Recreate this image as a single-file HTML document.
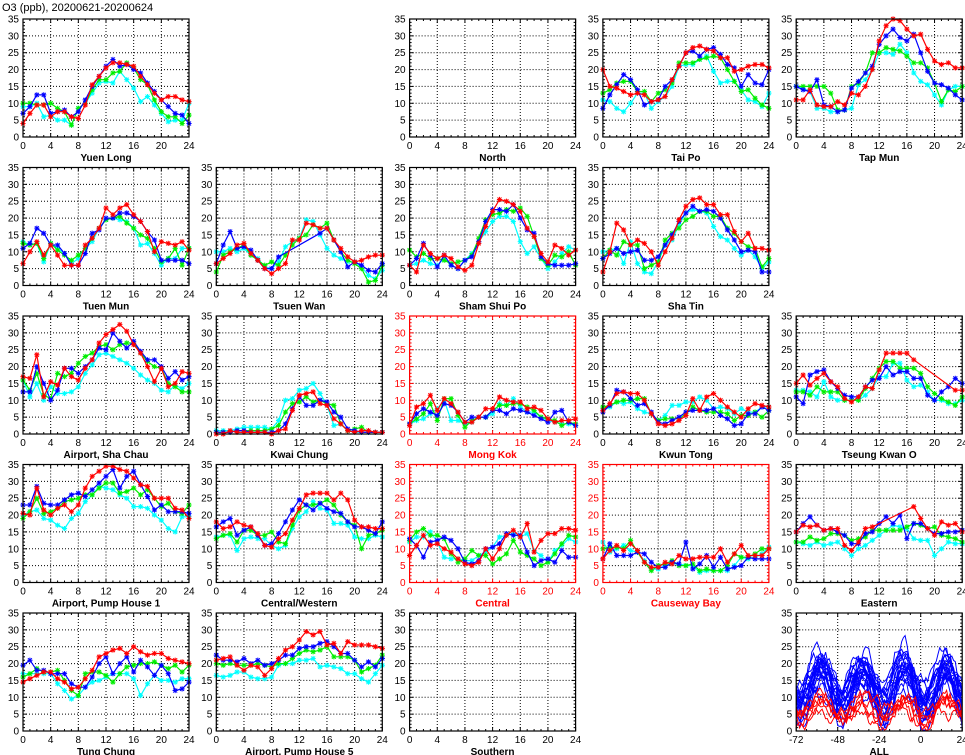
<!DOCTYPE html>
<html><head><meta charset="utf-8"><style>
html,body{margin:0;padding:0;background:#fff;width:965px;height:755px;overflow:hidden}
svg text{font-family:"Liberation Sans",sans-serif}
</style></head><body>
<svg id="s" width="965" height="755" xmlns="http://www.w3.org/2000/svg"></svg>
<script>
const S=document.getElementById('s');let out='';
out+='<text x="2" y="11" font-size="11" fill="#000">O3 (ppb), 20200621-20200624</text>';
const P=[
[0,0,"Yuen Long",0,{
b:[7,9,12.5,12.5,7,7.5,8,6,7.5,11,15,18,21,23,21,21.5,20,19,16,13.5,11,9,7,6.5,4],
r:[4,7,9.5,9.5,6,7.5,7.5,6,5.5,9.5,15.5,18,20.5,22,22,21.5,21,18,15.5,13,11,12,12,11,10.5],
g:[10,10,9.5,9.5,10,8.5,7.5,3.5,8.5,10,14,17,17,19,19.5,22,20.5,17,15.5,11,7.5,6,6,4,6.5],
c:[9,9,10,6,6.5,5,5,3.5,8.5,10,13,16,16.5,16,19.5,17,14.5,10.5,12,9.5,7,4.5,5,5,10]}],
[0,2,"North",0,null],
[0,3,"Tai Po",0,{
b:[8.5,12.5,15.5,18.5,17,14,9.5,10.5,11,15,17,21,25,25.5,24,26,26.5,24.5,21.5,20.5,15,18.5,16,15.5,20],
r:[20,15,14.5,13.5,12.5,13,12.5,10.5,11,12,17,21,25,26.5,27,26,25.5,23.5,23.5,19.5,20,21,21.5,21.5,20.5],
g:[13,14,16,16.5,16.5,13.5,13.5,10.5,13,14,16,22,22,22,23,23.5,24,23.5,20,16.5,13.5,14,11.5,9.5,8.5],
c:[11,10.5,8.5,7.5,10,13,13,8.5,10.5,12,15,21,21.5,21.5,23,24,19.5,16,16.5,16.5,14,11,10.5,9,13]}],
[0,4,"Tap Mun",0,{
b:[15,14,13.5,17,9.5,9,7.5,8,14.5,16.5,19,21,27.5,30,32,29.5,28.5,30.5,25,19.5,16,15.5,14.5,12.5,11],
r:[11,11,14,9.5,9,9,10.5,9.5,13,12.5,15,20,28.5,33,35,34.5,32,30,30.5,26,22.5,21.5,22,20.5,20.5],
g:[15,15,15,15,15,13,8,8,15,16,19,25,25,26.5,26,25.5,24,22,22,20.5,16,10.5,14,13.5,15],
c:[15,14.5,13.5,8.5,8.5,7.5,7.5,8,8.5,15.5,17,20,25,25,24.5,27.5,25,19,16.5,15.5,12.5,9.5,14,15,15]}],
[1,0,"Tuen Mun",0,{
b:[11,12.5,17,15.5,12,12,9.5,6,6,9.5,15.5,16.5,20,20,21.5,21.5,20.5,19,16,13.5,7.5,7.5,7.5,7.5,6.5],
r:[6.5,10,13,9,12,9,6,6,6,12,14,17,23,21,23,24,21,19,16,10,13,12.5,12,13,10.5],
g:[12.5,12,12.5,8,12.5,10.5,9,7.5,9,11,14,17,19.5,20,20.5,18.5,17,15,14,11,7,8,11,6,11],
c:[13,12,12.5,7,12.5,11,9.5,6.5,8,11,13,17,19.5,20,19.5,19,17,12,12.5,9.5,6,8,8,11,11]}],
[1,1,"Tsuen Wan",0,{
b:[6.5,12,16,11,11.5,10.5,7.5,5,5,8.5,null,null,null,null,null,15.5,17,13.5,10,5.5,7,6,4.5,4,6.5],
r:[6.5,8,9.5,12,12.5,9.5,7.5,5,3.5,5,6.5,13.5,13.5,18.5,18,17,17,13.5,11,8.5,7,7.5,8.5,9,9],
g:[4,9,10,11,12,9,7.5,6,7,6,9,12,14,15,18,17,18.5,13.5,10,7.5,6.5,5,1,1.5,6],
c:[10,10,11,10,11,9,8,5.5,5,7,11.5,13,14,19.5,19,15,11,9,8,7,7,5.5,3,2,4.5]}],
[1,2,"Sham Shui Po",0,{
b:[6,8,12.5,9,5.5,9,6,5,7.5,8.5,13,19,22.5,22.5,22,24,20,16.5,15.5,8.5,6.5,6,6,6,6.5],
r:[6,4,12,9.5,8,9,8,5.5,4.5,6,12.5,17.5,22,25.5,25,24,22,17,14.5,9.5,7,12,11,9,10.5],
g:[10.5,8.5,9.5,8,8,7.5,6.5,7,7.5,9,14,19.5,21,21.5,22.5,22,23,20.5,14.5,8,6,9,8.5,10,6],
c:[6,6.5,7.5,6.5,6,8,6,5,7.5,9.5,13,16,19,20.5,20.5,19,13,9.5,11.5,8,5,7,9.5,11.5,10.5]}],
[1,3,"Sha Tin",0,{
b:[8,9.5,11,9.5,10,10.5,7.5,7.5,8.5,12,15,19,21.5,23.5,22,22.5,22,20,16.5,13.5,10,10.5,10,4,4],
r:[4,10,18.5,16.5,12,13.5,12.5,10,6,10,14,19.5,23.5,25.5,26,24,24,21,21,16,13,15.5,11,11,10.5],
g:[8,10.5,9,13,12,12,5,6,7,13.5,15.5,17,19.5,20.5,22,22,20.5,20.5,17,15.5,13,11.5,11,5.5,8],
c:[10,10.5,11,6.5,13,6.5,4,3.5,7,12,13.5,18,21.5,22.5,22,21.5,17.5,14.5,13.5,11,9,10.5,8.5,5,7]}],
[2,0,"Airport, Sha Chau",0,{
b:[12.5,12.5,20,15,10,13,19.5,19.5,18,20,22,25.5,25,30,27.5,25.5,27.5,24.5,22,22,20,16.5,18.5,16,17],
r:[17,16.5,23.5,11,15.5,14.5,19.5,17,16,19.5,22,27,29.5,31,32.5,30.5,26.5,24,20,15.5,19.5,14,15,18.5,18],
g:[16,13,18,11.5,10.5,18,17,18,21,23,24,26,26.5,25,26.5,27,27,24,21.5,20,19.5,15,14,12.5,12.5],
c:[16,11,15,10,14,12,12,12.5,14,18,20.5,23.5,24,23,22,21,19.5,17.5,16,15,13,12.5,14.5,13.5,15]}],
[2,1,"Kwai Chung",0,{
b:[0.5,0.5,0.5,1,1,0.5,0.5,0.5,0.5,1,3,7.5,11,8.5,8.5,10,9.5,6.5,5,1.5,1,0.5,0.5,0.5,0.5],
r:[0,0,1,0.5,0.5,0.5,0.5,0.5,0,1,1.5,7,11.5,12,12.5,9,8.5,4.5,3,1,0.5,1,1,0.5,0.5],
g:[0.5,0.5,0.5,1,1,1,1,1,1.5,2.5,6.5,9,9.5,11,9.5,10,9,8.5,3,1,1.5,2,0.5,0.5,0.5],
c:[1,1,1,1.5,2,2,2,2,1.5,4,10,10.5,13,13.5,15,12,8.5,2.5,3,1,0.5,0.5,0.5,0.5,0.5]}],
[2,2,"Mong Kok",1,{
b:[3,6,7.5,6.5,5.5,9,8.5,6.5,3.5,5,5,5,7,7,6,7.5,7,6.5,5.5,4.5,3.5,6.5,7,3.5,2.5],
r:[2.5,8,9,11.5,7,10.5,9,6.5,3.5,3.5,5,7.5,7.5,11,10,9.5,9.5,7.5,8,7,4.5,3.5,4,4,4.5],
g:[3,4.5,6,9,4,10.5,10.5,5.5,2,4,5,5,7,8.5,8.5,9,9,8,7,5,4.5,4,2.5,3.5,3],
c:[3,4,4.5,6,7.5,10,4,4,3,3.5,5,5,6,9,8.5,10.5,8,6.5,6.5,5,4,3.5,3,3,2.5]}],
[2,3,"Kwun Tong",0,{
b:[6.5,8.5,13,12.5,10.5,8.5,9,6.5,3.5,3,4,5,6.5,7,7,7,7.5,5.5,4.5,2.5,3,6,6,8,7],
r:[7,9,12,12.5,12,12,10,6,3,2.5,3,4,5.5,10.5,7,11,12,10,8,6.5,5,7.5,9,8.5,8],
g:[8,8.5,9.5,10,10,10.5,10.5,6,4,4.5,4.5,4.5,6,8,7,6.5,6.5,6.5,6,4,5.5,5.5,6.5,5,7],
c:[7.5,8,9.5,9,9.5,7.5,6.5,6,4,5.5,8.5,8.5,9.5,9.5,11,10,7.5,8,7.5,6,7.5,6.5,6.5,8,8]}],
[2,4,"Tseung Kwan O",0,{
b:[11,9,17.5,18.5,19,15.5,13.5,11.5,11,11,14,16,16.5,20,17.5,18.5,18.5,16.5,16.5,11.5,10,12.5,14,16.5,15],
r:[15,17.5,14.5,16.5,18,15.5,14,10.5,9.5,11,14,13.5,19,24,24,24,24,22,null,null,null,null,null,13,13],
g:[12.5,12.5,11.5,14,12.5,12.5,12.5,10,10,10,13.5,16.5,19.5,21.5,21.5,19.5,19.5,19.5,18,14,12,10.5,9.5,8.5,11],
c:[13,13,12.5,11,15.5,11,10,10,10,10,11.5,13.5,17,17,21,21,16,14,14.5,12.5,10,10,9,9,10]}],
[3,0,"Airport, Pump House 1",0,{
b:[23,23,28.5,23.5,23,23,24.5,26,26.5,25.5,27.5,29.5,31.5,33.5,28,31.5,33,29,25.5,21.5,23,21,21,21,20.5],
r:[20.5,20,28,21.5,20,22,23,21,23,28,31.5,33,34.5,34.5,33.5,33,31,29,28.5,25,25,25,22,21.5,19],
g:[19,21,25,20.5,21,22,24,24.5,25,26,26,28,29.5,29.5,26.5,27,28,26,27.5,25,22.5,23.5,21,20.5,23],
c:[20,21,21.5,19,18.5,17,16,19,20.5,24,26,28.5,28,27.5,26,25,22.5,22.5,22,20,18.5,16,15,19.5,19.5]}],
[3,1,"Central/Western",0,{
b:[16.5,18,19,14,15.5,16.5,14,11,11.5,14.5,18,21.5,24.5,23,21.5,23.5,22,21,20.5,18,16.5,16.5,15.5,14.5,18],
r:[18,16,16.5,18,17,16.5,14.5,11,10.5,13,14.5,18.5,22,26,26.5,26.5,26.5,24.5,26.5,24.5,18.5,16.5,16.5,16,16],
g:[13,14,14.5,12,15.5,15.5,14,14,15,12,11.5,17,21.5,23,23,23.5,24.5,23,20,18,17,10,14,14.5,15.5],
c:[13.5,14,14,9.5,13,13.5,13,13,11,10,11,16,19.5,21,24,22,21.5,17.5,17.5,17,13.5,13,13,14,13.5]}],
[3,2,"Central",1,{
b:[13,11,7.5,12,12.5,13.5,12.5,10,6,5.5,6.5,10,10.5,11.5,14.5,14,14,9,5,6.5,7,6,9.5,7.5,7.5],
r:[8,11,14,11,11.5,10,9,7,5.5,5,6,10,7,10,14,15.5,13.5,17.5,9,12.5,14.5,14.5,16,16,15.5],
g:[12.5,15,16,14,14,13,8.5,6,7,9.5,8,8,5.5,7,8.5,12.5,9,8,7,5,6,8.5,11.5,14,13.5],
c:[12,13.5,13.5,15,12,7.5,7,7,6.5,6.5,8,9,10.5,13.5,14,14.5,13.5,14.5,9.5,8,6,9.5,11,13,12]}],
[3,3,"Causeway Bay",1,{
b:[7,11.5,8,8,8,9,8.5,6,4.5,4.5,6,5.5,12,4,5.5,8,4.5,7.5,4,4.5,5,7.5,7,7,7],
r:[7,9.5,11,9.5,11.5,9.5,6,4.5,4.5,6,5.5,8,7,7,7.5,7.5,7.5,10,6,8.5,11,8,8,8,10],
g:[10,10.5,10.5,10,12.5,9,6,3.5,5,5.5,6.5,5,5,5.5,3.5,4,3.5,3.5,5,8.5,7.5,7.5,8.5,10,10],
c:[12,9,10,11,9.5,9,6.5,4,4,5,5.5,5.5,5,5,3,3.5,3.5,3.5,3.5,5,7.5,7,7.5,8.5,10.5]}],
[3,4,"Eastern",0,{
b:[15,17.5,19.5,17,15.5,16,15,14,11.5,11.5,14.5,15,17.5,19.5,17.5,20,13,17.5,17.5,16,14.5,14.5,15,15,15.5],
r:[15,17,16.5,17,15.5,16,16,11,9.5,12,16,16.5,null,null,null,null,null,22.5,19,16,14,18,17,17.5,15],
g:[12,12,13.5,12.5,13,14.5,14.5,14,12.5,13,13.5,15.5,15.5,15.5,15.5,15.5,16.5,17.5,17,16,16.5,14,13.5,13,12],
c:[12,11.5,11,12,11,11.5,12,10,8,10,11,12.5,14,15.5,17,16.5,16,13,12.5,12.5,8,10,12,11.5,11.5]}],
[4,0,"Tung Chung",0,{
b:[19.5,21,18,18,17,17,17,14,13,13,16,20,22,17,20,22,17.5,21,19,16.5,19.5,17,12,12.5,14.5],
r:[14.5,15.5,16.5,17.5,17.5,15.5,14.5,12.5,13,15.5,18,22,23,24,24.5,23,25,23.5,22.5,23,23,21.5,21,20.5,20],
g:[16,17,18.5,17.5,17.5,18,15,12,10.5,17,17.5,17.5,16.5,14.5,17,19,19.5,20,20,20.5,19.5,18.5,19.5,17.5,19.5],
c:[17,17,17,17,17,14,12,9.5,10.5,13,14.5,15,16,17,17,17,15.5,10.5,14,16.5,15,15,14.5,15.5,15.5]}],
[4,1,"Airport, Pump House 5",0,{
b:[22.5,21,21,20.5,21.5,20,21,19.5,20,21,22.5,22.5,24.5,25,25,26,26.5,25,23,23,21,19,20.5,19,21.5],
r:[21,21.5,22,19.5,18,19.5,19,16.5,18.5,21.5,24,25,27,29.5,28.5,29.5,25.5,26,23,26.5,25.5,25.5,25.5,25,24.5],
g:[20,19.5,20,19.5,19.5,19.5,20,19.5,19,20,20,21.5,23,24,23.5,24,25,22,22,22,21,17.5,18.5,19.5,22.5],
c:[16.5,16,16.5,17.5,17.5,16,15.5,15.5,16,19.5,20,20,21,21,21.5,19,19.5,19,18.5,17,17,15.5,14.5,17,19.5]}],
[4,2,"Southern",0,null],
[4,4,"ALL",0,"all"]
];
const COL={c:"#00ffff",g:"#00ee00",b:"#0000ff",r:"#ff0000"};
function star(x,y,col){const a=2.6;return `<path d="M${x-a} ${y}H${x+a}M${x} ${y-a}V${y+a}M${x-2} ${y-2}L${x+2} ${y+2}M${x-2} ${y+2}L${x+2} ${y-2}" stroke="${col}" stroke-width="1"/>`;}
let seed=7;function rnd(){seed=(seed*16807)%2147483647;return seed/2147483647;}
P.forEach(([r,c,name,red,data])=>{
 const L=23+193.3*c, T=19+148.5*r, W=166, H=118;
 const fg=red?"#ff0000":"#000";
 const isAll=data==="all";
 const x0=isAll?-72:0,x1=24;
 const X=v=>L+(v-x0)/(x1-x0)*W, Y=v=>T+H-v/35*H;
 let s='';
 const xt=isAll?[-72,-48,-24,0,24]:[0,4,8,12,16,20,24];
 xt.slice(1,-1).forEach(v=>{s+=`<line x1="${X(v)}" y1="${T}" x2="${X(v)}" y2="${T+H}" stroke="#000" stroke-width="1" stroke-dasharray="1,2"/>`});
 for(let v=5;v<35;v+=5)s+=`<line x1="${L}" y1="${Y(v)}" x2="${L+W}" y2="${Y(v)}" stroke="#000" stroke-width="1" stroke-dasharray="1,2"/>`;
 const mstep=isAll?6:1;
 for(let v=x0;v<=x1;v+=mstep){const big=xt.includes(v);const l=big?4:2;s+=`<line x1="${X(v)}" y1="${T+H}" x2="${X(v)}" y2="${T+H-l}" stroke="${fg}"/><line x1="${X(v)}" y1="${T}" x2="${X(v)}" y2="${T+l}" stroke="${fg}"/>`;}
 for(let v=0;v<=35;v+=1){const big=v%5==0;const l=big?4:2;s+=`<line x1="${L}" y1="${Y(v)}" x2="${L+l}" y2="${Y(v)}" stroke="${fg}"/><line x1="${L+W}" y1="${Y(v)}" x2="${L+W-l}" y2="${Y(v)}" stroke="${fg}"/>`;}
 if(data&&!isAll){["c","g","b","r"].forEach(k=>{const a=data[k];let pts=[];a.forEach((v,i)=>{if(v!==null)pts.push([X(i),Y(v)])});
  s+=`<polyline points="${pts.map(p=>p[0].toFixed(1)+','+p[1].toFixed(1)).join(' ')}" fill="none" stroke="${COL[k]}" stroke-width="1.2"/>`;
  pts.forEach(p=>s+=star(p[0],p[1],COL[k]));});}
 if(isAll){
  s+=`<clipPath id="cp"><rect x="${L}" y="${T}" width="${W}" height="${H}"/></clipPath><g clip-path="url(#cp)">`;
  for(let n=0;n<28;n++){const red=n>=22;const base=red?5+rnd()*3:10+rnd()*8;const amps=[0,1,2,3,4].map(()=>red?1+rnd()*3:2+rnd()*8);const ph=(rnd()-0.5)*6;let pts=[];let nz=0;
   for(let h=-72;h<=24;h++){nz=nz*0.8+(rnd()-0.5)*3.5;const day=Math.floor((h+72)/24);const d=Math.cos((h-14-ph)/24*2*Math.PI);let v=base+amps[day]*d+nz;v=Math.max(0.3,Math.min(35,v));pts.push(X(h).toFixed(1)+','+Y(v).toFixed(1));}
   s+=`<polyline points="${pts.join(' ')}" fill="none" stroke="${red?'#ff0000':'#0000ff'}" stroke-width="1"/>`;}
  s+='</g>';
 }
 s+=`<rect x="${L}" y="${T}" width="${W}" height="${H}" fill="none" stroke="${fg}" stroke-width="1.2"/>`;
 for(let v=0;v<=35;v+=5)s+=`<text x="${L-4}" y="${Y(v)+3.5}" font-size="10" text-anchor="end" fill="${fg}">${v}</text>`;
 xt.forEach(v=>{s+=`<text x="${X(v)}" y="${T+H+12}" font-size="10" text-anchor="middle" fill="${fg}">${v}</text>`});
 s+=`<text x="${L+W/2}" y="${T+H+24}" font-size="10" font-weight="bold" text-anchor="middle" fill="${fg}" font-family="Liberation Serif, serif">${name}</text>`;
 out+=s;
});
S.innerHTML=out;
</script>
</body></html>
